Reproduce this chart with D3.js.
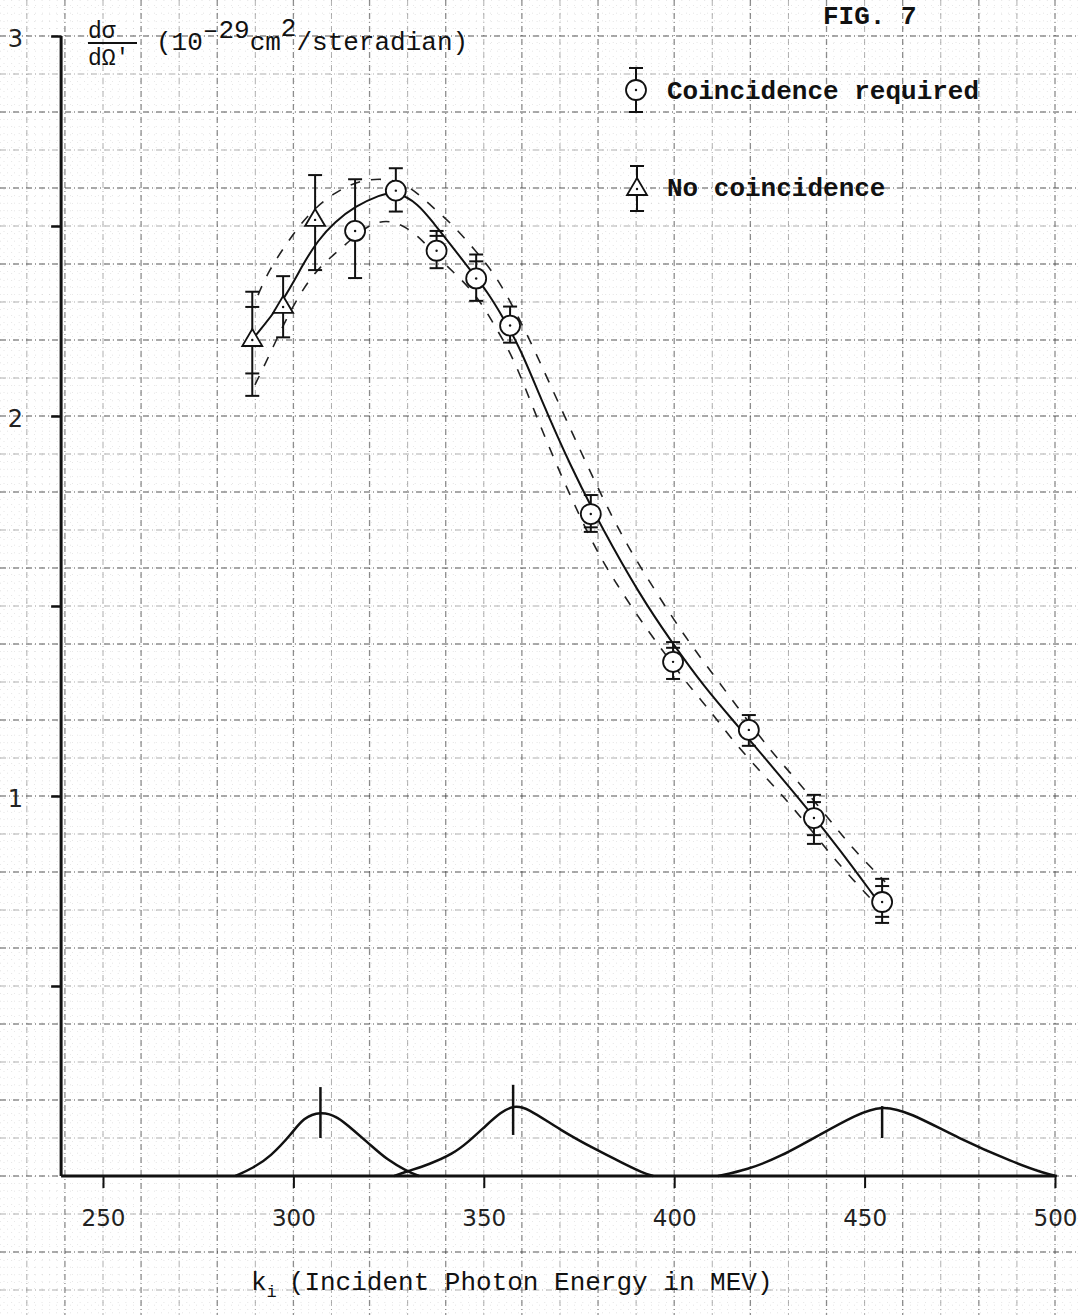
<!DOCTYPE html>
<html>
<head>
<meta charset="utf-8">
<script src="https://cdn.jsdelivr.net/npm/d3@7/dist/d3.min.js"></script>
<style>
  body { margin: 0; background: #fff; }
  svg { display: block; }
  .typed { font-family: "Liberation Mono", "DejaVu Sans Mono", monospace; fill: #111; }
  .hand { font-family: "DejaVu Sans", sans-serif; fill: #222; }
</style>
</head>
<body>
<div id="chart"></div>
<script>
// values (energy in MeV, cross section in 1e-29 cm^2/sr)
const coincEnergy    = [316.2, 326.9, 337.6, 348.0, 356.9, 378.1, 399.7, 419.6, 436.7, 454.6];
const coincValue     = [2.487, 2.593, 2.435, 2.362, 2.238, 1.742, 1.353, 1.174, 0.942, 0.721];
const coincLow       = [2.363, 2.538, 2.389, 2.303, 2.193, 1.695, 1.308, 1.132, 0.874, 0.666];
const coincHigh      = [2.623, 2.652, 2.487, 2.425, 2.288, 1.792, 1.405, 1.213, 1.003, 0.782];
const coincInnerLow  = [null, null, null, null, null, 1.707, null, null, 0.897, 0.682];
const coincInnerHigh = [null, null, 2.474, 2.407, null, null, 1.390, null, 0.984, 0.763];

const noCoincEnergy    = [289.2, 297.3, 305.7];
const noCoincValue     = [2.200, 2.287, 2.516];
const noCoincLow       = [2.053, 2.207, 2.384];
const noCoincHigh      = [2.327, 2.368, 2.634];
const noCoincInnerLow  = [2.112, null, null];
const noCoincInnerHigh = [2.287, null, null];

// hand drawn curve and its dashed envelope
const fitEnergy = [289.1, 297.3, 302.5, 306.5, 310.9, 316.2, 322.7, 326.9, 332.7, 337.0, 341.0, 346.0, 351.1, 355.0, 359.5, 364.8, 372.6, 381.3, 391.0, 398.9, 408.1, 416.5, 426.5, 435.7, 443.5, 452.7];
const fitValue  = [2.200, 2.300, 2.400, 2.463, 2.511, 2.552, 2.582, 2.592, 2.560, 2.505, 2.455, 2.390, 2.325, 2.260, 2.180, 2.050, 1.871, 1.700, 1.529, 1.411, 1.284, 1.187, 1.068, 0.958, 0.858, 0.734];

const upperEnergy = [290.7, 293.3, 299.1, 304.4, 310.9, 317.5, 324.8, 330.6, 335.9, 341.1, 347.7, 353.5, 359.5, 364.2, 374.0, 384.2, 391.0, 402.8, 409.4, 424.6, 430.4, 440.9, 446.7, 455.4];
const upperValue  = [2.318, 2.379, 2.468, 2.537, 2.589, 2.621, 2.626, 2.605, 2.555, 2.511, 2.437, 2.366, 2.253, 2.155, 1.937, 1.721, 1.603, 1.418, 1.332, 1.126, 1.063, 0.937, 0.863, 0.774];

const lowerEnergy = [289.9, 293.1, 299.1, 305.7, 312.2, 320.1, 326.7, 332.7, 338.5, 343.8, 349.0, 353.5, 358.2, 366.1, 378.4, 384.7, 391.0, 404.2, 409.4, 415.2, 424.6, 431.2, 440.9, 447.5, 451.4];
const lowerValue  = [2.082, 2.147, 2.279, 2.384, 2.437, 2.511, 2.516, 2.476, 2.411, 2.363, 2.305, 2.226, 2.147, 1.937, 1.663, 1.561, 1.463, 1.284, 1.226, 1.147, 1.042, 0.971, 0.847, 0.774, 0.732];

// beam resolution profiles along the base line
const bump1Energy = [284.8, 289.4, 293.9, 299.7, 302.6, 307.1, 311.6, 315.7, 320.2, 324.7, 329.8, 333.0];
const bump1Value  = [0, 0.021, 0.050, 0.113, 0.153, 0.170, 0.157, 0.121, 0.082, 0.042, 0.013, 0];
const bump2Energy = [326.5, 329.8, 335.5, 341.9, 346.0, 350.5, 354.5, 357.7, 361.3, 370.0, 379.7, 386.5, 391.8, 394.5];
const bump2Value  = [0, 0.012, 0.030, 0.058, 0.090, 0.132, 0.168, 0.185, 0.181, 0.121, 0.068, 0.034, 0.008, 0];
const bump3Energy = [411.5, 419.1, 427.8, 438.8, 447.5, 454.6, 461.9, 474.5, 489.0, 497.6, 500.5];
const bump3Value  = [0, 0.016, 0.050, 0.112, 0.160, 0.187, 0.167, 0.100, 0.036, 0.006, 0];
const markEnergy  = [307.1, 357.7, 454.6];
const markLow     = [0.100, 0.108, 0.100];
const markHigh    = [0.234, 0.240, 0.184];

const xTicks = [250, 300, 350, 400, 450, 500];
const yTicks = [0.5, 1, 1.5, 2, 2.5, 3];
const yTickLabels = ["", "1", "", "2", "", "3"];
const xAxisStart = 239;

const W = 1078, H = 1315;
const svg = d3.select("#chart").append("svg").attr("width", W).attr("height", H);
svg.append("rect").attr("width", W).attr("height", H).attr("fill", "#fff");

const x = d3.scaleLinear().domain([250, 500]).range([103, 1055]);
const y = d3.scaleLinear().domain([0, 3]).range([1176, 36]);

// graph paper
const xMin = x.invert(0), xMax = x.invert(W), yMax = y.invert(0), yMin = y.invert(H);
const paper = svg.append("g");
const fineX = d3.range(Math.ceil(xMin / 2) * 2, xMax, 2);
const fineY = d3.range(Math.ceil(yMin / 0.02), yMax / 0.02).map(d => d * 0.02);
paper.selectAll(".fx").data(fineX).enter().append("line")
    .attr("x1", d => x(d)).attr("x2", d => x(d)).attr("y1", 0).attr("y2", H)
    .attr("stroke", "#999").attr("stroke-width", 0.8).attr("stroke-dasharray", "1,6").attr("opacity", 0.3);
paper.selectAll(".fy").data(fineY).enter().append("line")
    .attr("y1", d => y(d)).attr("y2", d => y(d)).attr("x1", 0).attr("x2", W)
    .attr("stroke", "#999").attr("stroke-width", 0.8).attr("stroke-dasharray", "1,6").attr("opacity", 0.3);

const majX = d3.range(Math.ceil(xMin / 10), xMax / 10).map(d => d * 10);
const majY = d3.range(Math.ceil(yMin * 10), yMax * 10).map(d => d / 10);
paper.selectAll(".mx").data(majX).enter().append("line")
    .attr("x1", d => x(d)).attr("x2", d => x(d)).attr("y1", 0).attr("y2", H)
    .attr("stroke", "#333").attr("stroke-width", d => d % 20 === 0 ? 1.3 : 1)
    .attr("stroke-dasharray", "6,3,1,3").attr("opacity", d => d % 20 === 0 ? 0.55 : 0.38);
paper.selectAll(".my").data(majY).enter().append("line")
    .attr("y1", d => y(d)).attr("y2", d => y(d)).attr("x1", 0).attr("x2", W)
    .attr("stroke", "#333").attr("stroke-width", d => Math.round(d * 10) % 2 === 0 ? 1.3 : 1)
    .attr("stroke-dasharray", "6,3,1,3").attr("opacity", d => Math.round(d * 10) % 2 === 0 ? 0.55 : 0.38);

// axes
const xAxis = d3.axisBottom(x).tickValues(xTicks).tickSize(12).tickPadding(22);
const gx = svg.append("g").attr("transform", `translate(0,${y(0)})`).call(xAxis);
gx.select(".domain").remove();
gx.selectAll(".tick line").attr("stroke", "#111").attr("stroke-width", 2);
gx.selectAll(".tick text").attr("class", "hand").attr("font-size", 23).attr("fill", "#333");

const yAxis = d3.axisLeft(y).tickValues(yTicks).tickSize(10).tickPadding(28)
    .tickFormat((d, i) => yTickLabels[i]);
const gy = svg.append("g").attr("transform", `translate(${x(xAxisStart)},0)`).call(yAxis);
gy.select(".domain").remove();
gy.selectAll(".tick line").attr("stroke", "#111").attr("stroke-width", 2.5);
gy.selectAll(".tick text").attr("class", "hand").attr("font-size", 24).attr("dy", "0.45em");

svg.append("line").attr("x1", x(xAxisStart)).attr("x2", x(xAxisStart))
    .attr("y1", y(3)).attr("y2", y(0)).attr("stroke", "#111").attr("stroke-width", 3);
svg.append("line").attr("x1", x(xAxisStart)).attr("x2", x(500))
    .attr("y1", y(0)).attr("y2", y(0)).attr("stroke", "#111").attr("stroke-width", 3);

// curves
const line = d3.line().x(d => x(d[0])).y(d => y(d[1])).curve(d3.curveBasis);
const zip = (a, b) => a.map((v, i) => [v, b[i]]);

svg.append("path").datum(zip(upperEnergy, upperValue)).attr("d", line)
    .attr("fill", "none").attr("stroke", "#222").attr("stroke-width", 1.6).attr("stroke-dasharray", "10,11");
svg.append("path").datum(zip(lowerEnergy, lowerValue)).attr("d", line)
    .attr("fill", "none").attr("stroke", "#222").attr("stroke-width", 1.6).attr("stroke-dasharray", "10,11");
svg.append("path").datum(zip(fitEnergy, fitValue)).attr("d", line)
    .attr("fill", "none").attr("stroke", "#111").attr("stroke-width", 2);

[[bump1Energy, bump1Value], [bump2Energy, bump2Value], [bump3Energy, bump3Value]].forEach(function (b) {
    svg.append("path").datum(zip(b[0], b[1])).attr("d", line)
        .attr("fill", "none").attr("stroke", "#111").attr("stroke-width", 2.5);
});
svg.selectAll(".mark").data(markEnergy).enter().append("line")
    .attr("x1", d => x(d)).attr("x2", d => x(d))
    .attr("y1", (d, i) => y(markLow[i])).attr("y2", (d, i) => y(markHigh[i]))
    .attr("stroke", "#111").attr("stroke-width", 2.5);

// error bars + markers
function errorBars(g, cx, lo, hi, inLo, inHi) {
    g.append("line").attr("x1", cx).attr("x2", cx).attr("y1", lo).attr("y2", hi)
        .attr("stroke", "#111").attr("stroke-width", 2);
    [lo, hi, inLo, inHi].forEach(function (v) {
        if (v === null) return;
        g.append("line").attr("x1", cx - 7).attr("x2", cx + 7).attr("y1", v).attr("y2", v)
            .attr("stroke", "#111").attr("stroke-width", 2);
    });
}
function circleMark(g, cx, cy) {
    g.append("circle").attr("cx", cx).attr("cy", cy).attr("r", 10)
        .attr("fill", "#fff").attr("stroke", "#111").attr("stroke-width", 1.8);
    g.append("circle").attr("cx", cx).attr("cy", cy).attr("r", 1.2).attr("fill", "#111");
}
function triangleMark(g, cx, cy) {
    g.append("path").attr("d", `M${cx},${cy - 11}L${cx + 10},${cy + 6}L${cx - 10},${cy + 6}Z`)
        .attr("fill", "#fff").attr("stroke", "#111").attr("stroke-width", 1.8);
    g.append("circle").attr("cx", cx).attr("cy", cy).attr("r", 1.2).attr("fill", "#111");
}

const pts = svg.append("g");
coincEnergy.forEach(function (e, i) {
    const g = pts.append("g");
    errorBars(g, x(e), y(coincLow[i]), y(coincHigh[i]),
        coincInnerLow[i] === null ? null : y(coincInnerLow[i]),
        coincInnerHigh[i] === null ? null : y(coincInnerHigh[i]));
    circleMark(g, x(e), y(coincValue[i]));
});
noCoincEnergy.forEach(function (e, i) {
    const g = pts.append("g");
    errorBars(g, x(e), y(noCoincLow[i]), y(noCoincHigh[i]),
        noCoincInnerLow[i] === null ? null : y(noCoincInnerLow[i]),
        noCoincInnerHigh[i] === null ? null : y(noCoincInnerHigh[i]));
    triangleMark(g, x(e), y(noCoincValue[i]));
});

// legend
const leg = svg.append("g");
const lg1 = leg.append("g");
errorBars(lg1, 636, 112, 68, null, null);
circleMark(lg1, 636, 90);
leg.append("text").attr("class", "typed").attr("x", 667).attr("y", 99)
    .attr("font-size", 26).attr("font-weight", "bold").text("Coincidence required");
const lg2 = leg.append("g");
errorBars(lg2, 637, 211, 166, null, null);
triangleMark(lg2, 637, 189);
leg.append("text").attr("class", "typed").attr("x", 667).attr("y", 196)
    .attr("font-size", 26).attr("font-weight", "bold").text("No coincidence");

// titles
svg.append("text").attr("class", "typed").attr("x", 823).attr("y", 24)
    .attr("font-size", 26).attr("font-weight", "bold").text("FIG. 7");

const yl = svg.append("g");
yl.append("text").attr("class", "typed").attr("x", 88).attr("y", 38).attr("font-size", 23).text("d\u03C3");
yl.append("line").attr("x1", 88).attr("x2", 137).attr("y1", 43).attr("y2", 43)
    .attr("stroke", "#111").attr("stroke-width", 2);
yl.append("text").attr("class", "typed").attr("x", 88).attr("y", 65).attr("font-size", 23).text("d\u03A9'");
const ylt = yl.append("text").attr("class", "typed").attr("x", 156).attr("y", 50).attr("font-size", 26);
ylt.append("tspan").text("(10");
ylt.append("tspan").attr("dy", -12).text("\u201229");
ylt.append("tspan").attr("dy", 12).text("cm");
ylt.append("tspan").attr("dy", -14).text("2");
ylt.append("tspan").attr("dy", 14).text("/steradian)");

const xl = svg.append("text").attr("class", "typed").attr("x", 251).attr("y", 1290)
    .attr("font-size", 26).attr("fill", "#222");
xl.append("tspan").text("k");
xl.append("tspan").attr("dy", 7).attr("font-size", 17).text("i");
xl.append("tspan").attr("dy", -7).attr("dx", 12).text("(Incident Photon Energy in MEV)");
</script>
</body>
</html>
